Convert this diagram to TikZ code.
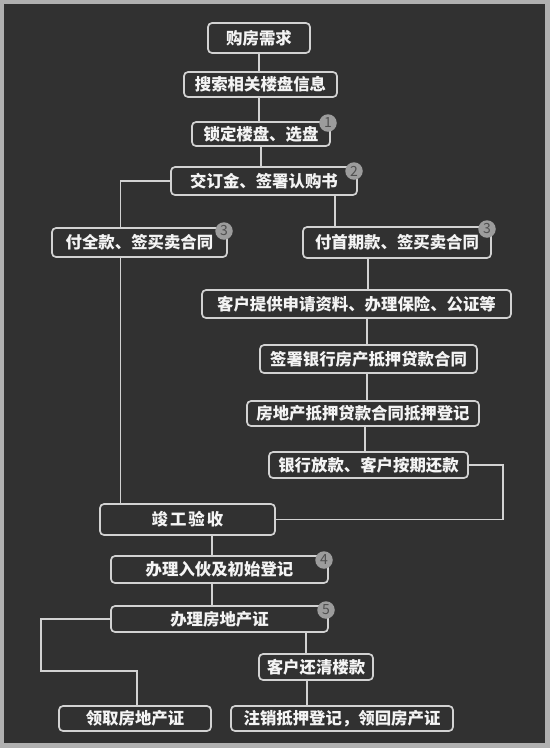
\documentclass[tikz,border=0pt]{standalone}
\usepackage{fontspec}
\setmainfont{Noto Sans CJK SC}
\usetikzlibrary{calc}
\definecolor{frame}{HTML}{B0B0B0}
\definecolor{bgc}{HTML}{313131}
\definecolor{edge}{HTML}{D2D2D2}
\definecolor{txt}{HTML}{F4F4F4}
\definecolor{badgefill}{HTML}{9C9C9C}
\definecolor{badgetxt}{HTML}{505050}
\pgfdeclarelayer{back}
\pgfdeclarelayer{lines}
\pgfsetlayers{back,lines,main}
\tikzset{
  box/.style={draw=edge, line width=1.7pt, rounded corners=4pt, fill=bgc, text=txt,
    font=\fontsize{16.4}{18}\selectfont\bfseries, inner sep=0pt, anchor=center},
  badge/.style={circle, fill=badgefill, text=badgetxt, minimum size=17.5pt, inner sep=0pt,
    font=\fontsize{14}{14}\selectfont},
  conn/.style={draw=edge, line width=1.4pt}
}
\begin{document}
\begin{tikzpicture}[x=1pt,y=-1pt]
\begin{pgfonlayer}{back}
\fill[frame] (0,0) rectangle (550,748);
\fill[bgc] (4,4) rectangle (545,743);
\end{pgfonlayer}
\useasboundingbox (0,0) rectangle (550,748);

\node[box, minimum width=102pt, minimum height=30pt] (n1) at (259,38) {购房需求};
\node[box, minimum width=153pt, minimum height=25pt] (n2) at (260.5,84.5) {搜索相关楼盘信息};
\node[box, minimum width=138pt, minimum height=24pt] (n3) at (261,134) {锁定楼盘、选盘};
\node[box, minimum width=186pt, minimum height=28pt] (n4) at (264,181) {交订金、签署认购书};
\node[box, minimum width=175pt, minimum height=29pt] (n5) at (139.5,242.5) {付全款、签买卖合同};
\node[box, minimum width=188pt, minimum height=31pt] (n6) at (397,242.5) {付首期款、签买卖合同};
\node[box, minimum width=309pt, minimum height=28pt] (n7) at (356.5,304) {客户提供申请资料、办理保险、公证等};
\node[box, minimum width=217pt, minimum height=28pt] (n8) at (368.5,359) {签署银行房产抵押贷款合同};
\node[box, minimum width=232pt, minimum height=25pt] (n9) at (363,413.5) {房地产抵押贷款合同抵押登记};
\node[box, minimum width=199pt, minimum height=26pt] (n10) at (368.5,465) {银行放款、客户按期还款};
\node[box, minimum width=175pt, minimum height=31pt] (n11) at (187.5,519.5) {竣\hspace{2pt}工\hspace{2pt}验\hspace{2pt}收};
\node[box, minimum width=217pt, minimum height=27pt] (n12) at (219.5,569.5) {办理入伙及初始登记};
\node[box, minimum width=217pt, minimum height=26pt] (n13) at (219.5,619) {办理房地产证};
\node[box, minimum width=114pt, minimum height=26pt] (n14) at (316,667) {客户还清楼款};
\node[box, minimum width=152pt, minimum height=25pt] (n15) at (135,718.5) {领取房地产证};
\node[box, minimum width=222pt, minimum height=25pt] (n16) at (342,718.5) {注销抵押登记，领回房产证};

\node[badge] (b1) at (328,123) {1};
\node[badge] (b2) at (354,171) {2};
\node[badge] (b3a) at (224,231) {3};
\node[badge] (b3b) at (487,229) {3};
\node[badge] (b4) at (324,560) {4};
\node[badge] (b5) at (326,610) {5};

\begin{pgfonlayer}{lines}
\draw[conn] (n1.south) -- (n1.south |- n2.north);
\draw[conn] ([xshift=-1.5pt]n2.south) -- ([xshift=-1.5pt]n2.south |- n3.north);
\draw[conn] (n3.south) -- (n3.south |- n4.north);
\draw[conn] (n4.west) -| ([xshift=-66.8pt]n11.north);
\draw[conn] ([xshift=71pt]n4.south) -- ([xshift=71pt]n4.south |- n6.north);
\draw[conn] ([xshift=-29pt]n6.south) -- ([xshift=-29pt]n6.south |- n7.north);
\draw[conn] ([xshift=-1.5pt]n8.north) -- ([xshift=-1.5pt]n8.north |- n7.south);
\draw[conn] ([xshift=-1.5pt]n8.south) -- ([xshift=-1.5pt]n8.south |- n9.north);
\draw[conn] ([xshift=-3.5pt]n10.north) -- ([xshift=-3.5pt]n10.north |- n9.south);
\draw[conn] (n10.east) -- ++(34,0) |- (n11.east);
\draw[conn] ([xshift=24.5pt]n11.south) -- ([xshift=24.5pt]n11.south |- n12.north);
\draw[conn] ([xshift=24.5pt]n11.south |- n12.south) -- ([xshift=24.5pt]n11.south |- n13.north);
\draw[conn] (n13.west) -| ([xshift=-94pt,yshift=34pt]n15.north) -| ([xshift=2pt]n15.north);
\draw[conn] ([xshift=-10pt]n14.north) -- ([xshift=-10pt]n14.north |- n13.south);
\draw[conn] ([xshift=-9pt]n14.south) -- ([xshift=-9pt]n14.south |- n16.north);
\end{pgfonlayer}
\end{tikzpicture}
\end{document}
